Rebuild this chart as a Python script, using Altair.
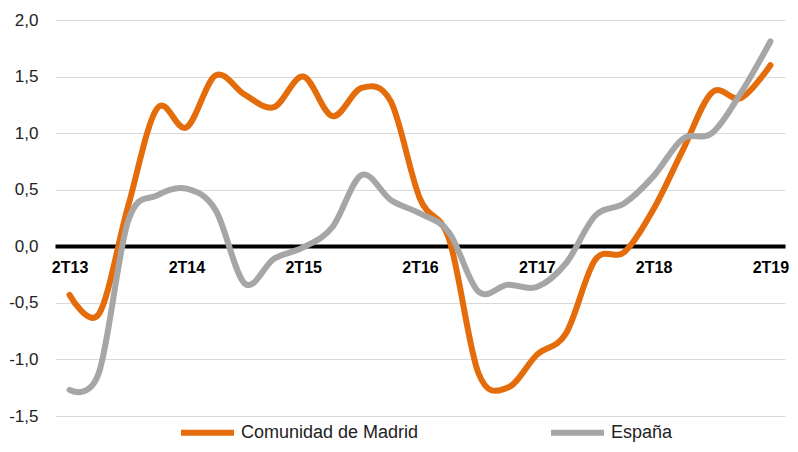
import altair as alt
import pandas as pd

quarters = ["2T13", "3T13", "4T13", "1T14", "2T14", "3T14", "4T14", "1T15",
            "2T15", "3T15", "4T15", "1T16", "2T16", "3T16", "4T16", "1T17",
            "2T17", "3T17", "4T17", "1T18", "2T18", "3T18", "4T18", "1T19", "2T19"]
x_labels = ["2T13", "2T14", "2T15", "2T16", "2T17", "2T18", "2T19"]
series_names = ["Comunidad de Madrid", "España"]
madrid = [-0.43, -0.60, 0.35, 1.22, 1.05, 1.51, 1.34, 1.23, 1.50, 1.15, 1.40, 1.28,
          0.42, 0.06, -1.12, -1.25, -0.96, -0.77, -0.12, -0.05, 0.33, 0.85, 1.36, 1.31, 1.60]
espana = [-1.27, -1.12, 0.22, 0.45, 0.51, 0.32, -0.33, -0.11, -0.01, 0.17, 0.63, 0.41,
          0.29, 0.12, -0.40, -0.34, -0.36, -0.15, 0.27, 0.38, 0.62, 0.95, 1.00, 1.36, 1.81]
colors = ["#E46C0A", "#A6A6A6"]
y_ticks = [-1.5, -1.0, -0.5, 0.0, 0.5, 1.0, 1.5, 2.0]

rows = []
for name, vals in zip(series_names, [madrid, espana]):
    for i, (q, v) in enumerate(zip(quarters, vals)):
        rows.append({"q": q, "v": v, "s": name, "o": i})
df = pd.DataFrame(rows)

PLOT_W = 730
PLOT_H = 396
zero_off = -round(PLOT_H * (0 - (-1.5)) / 3.5)

chart = alt.Chart(df).mark_line(
    interpolate="cardinal", strokeWidth=6, strokeCap="round", strokeJoin="round"
).encode(
    x=alt.X("q:O", sort=quarters,
            scale=alt.Scale(type="point", padding=0.5),
            axis=alt.Axis(values=x_labels, title=None, labelAngle=0, ticks=False,
                          domain=True, domainColor="#000000", domainWidth=4,
                          offset=zero_off, labelPadding=13, labelFontSize=16,
                          labelFontWeight="bold", labelColor="#000000",
                          labelFont="Liberation Sans", grid=False)),
    y=alt.Y("v:Q", scale=alt.Scale(domain=[-1.5, 2.0], nice=False, zero=False),
            axis=alt.Axis(values=y_ticks, title=None, domain=False, ticks=False,
                          grid=True, gridColor="#D9D9D9", gridWidth=1.2,
                          labelPadding=17, labelFontSize=17, labelColor="#222222",
                          labelFont="Liberation Sans",
                          labelExpr="(datum.value < 0 ? '-' : '') + replace(format(abs(datum.value), '.1f'), '.', ',')")),
    color=alt.Color("s:N", sort=series_names,
                    scale=alt.Scale(domain=series_names, range=colors),
                    legend=alt.Legend(title=None, orient="none", legendX=123, legendY=383,
                                      direction="horizontal", symbolType="stroke",
                                      symbolSize=2809, symbolStrokeWidth=6,
                                      labelFontSize=18, labelFont="Liberation Sans",
                                      labelColor="#222222", labelOffset=4,
                                      columnPadding=120, labelLimit=400, padding=0)),
    order="o:Q",
).properties(
    width=PLOT_W, height=PLOT_H,
    autosize=alt.AutoSizeParams(type="none"),
    padding={"left": 47, "top": 12, "right": 5, "bottom": 28},
).configure_view(stroke=None)

chart.save("out.html", embed_options={"renderer": "svg", "actions": False})
